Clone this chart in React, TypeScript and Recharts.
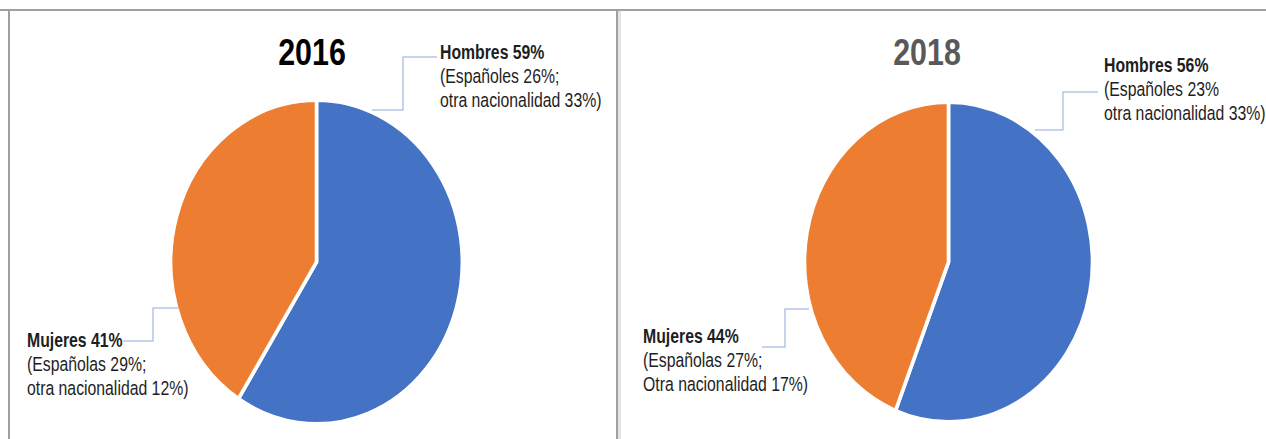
import React from 'react';
import { PieChart, Pie, Cell } from 'recharts';

// ---- data ----
const categories = ['Hombres', 'Mujeres'];
const values2016 = [59, 41];
const values2018 = [56, 44];
const detail2016 = [
  ['(Españoles 26%;', 'otra nacionalidad 33%)'],
  ['(Españolas 29%;', 'otra nacionalidad 12%)'],
];
const detail2018 = [
  ['(Españoles 23%', 'otra nacionalidad 33%)'],
  ['(Españolas 27%;', 'Otra nacionalidad 17%)'],
];
const titles = ['2016', '2018'];

const COLORS = ['#4472C4', '#ED7D31'];
const SX = 0.9; // horizontal squeeze of the picture
const FONT = '"Liberation Sans", Arial, sans-serif';

type Layout = { leader: number[][]; text: number[] };
// label placement offsets, relative to the pie centre (unscaled units)
const layout2016: Layout[] = [
  { leader: [[61.7, -152], [96.1, -152], [96.1, -205], [133.9, -205]], text: [137.2, -203] },
  { leader: [[-151.7, 46], [-181.7, 46], [-181.7, 79], [-215, 79]], text: [-321.7, 85] },
];
const layout2018: Layout[] = [
  { leader: [[96.1, -132], [127.2, -132], [127.2, -170], [166.1, -170]], text: [172.8, -190] },
  { leader: [[-155, 47], [-181.7, 47], [-181.7, 85], [-207.2, 85]], text: [-339.4, 81] },
];

const makeLabel = (layout: Layout[], detail: string[][]) => (props: any) => {
  const { cx, cy, index } = props;
  const L = layout[index];
  const pts = L.leader.map(([dx, dy]) => `${cx + dx},${cy + dy}`).join(' ');
  const tx = cx + L.text[0];
  const ty = cy + L.text[1];
  const v = props.value ?? props.payload?.value;
  return (
    <g key={`lbl-${index}`}>
      <polyline points={pts} fill="none" stroke="#8FAADC" strokeWidth={1.1} />
      <text
        transform={`translate(${tx},${ty}) scale(0.9,1)`}
        fontFamily={FONT}
        fontSize={19.5}
        fill="#1e1e1e"
      >
        <tspan x={0} y={0} fontWeight="bold">{`${categories[index]} ${v}%`}</tspan>
        <tspan x={0} y={24}>{detail[index][0]}</tspan>
        <tspan x={0} y={48}>{detail[index][1]}</tspan>
      </text>
    </g>
  );
};

const data2016 = categories.map((name, i) => ({ name, value: values2016[i] }));
const data2018 = categories.map((name, i) => ({ name, value: values2018[i] }));

function PiePanel({ left, width, cx, radius, data, layout, detail }: any) {
  return (
    <div
      style={{
        position: 'absolute',
        left,
        top: 0,
        width,
        height: 439,
        transform: `scaleX(${SX})`,
        transformOrigin: '0 0',
      }}
    >
      <PieChart width={width} height={439} margin={{ top: 0, right: 0, bottom: 0, left: 0 }}>
        <Pie
          data={data}
          dataKey="value"
          nameKey="name"
          cx={cx}
          cy={262}
          outerRadius={radius}
          startAngle={90}
          endAngle={-270}
          stroke="#ffffff"
          strokeWidth={4}
          isAnimationActive={false}
          labelLine={false}
          label={makeLabel(layout, detail)}
        >
          {data.map((_: any, i: number) => (
            <Cell key={i} fill={COLORS[i]} />
          ))}
        </Pie>
      </PieChart>
    </div>
  );
}

export default function App() {
  return (
    <div style={{ position: 'absolute', left: 0, top: 0, width: 1266, height: 439, background: '#fff', overflow: 'hidden' }}>
      <PiePanel left={8} width={676} cx={342.8} radius={162} data={data2016} layout={layout2016} detail={detail2016} />
      <PiePanel left={620} width={718} cx={365} radius={160} data={data2018} layout={layout2018} detail={detail2018} />
      <svg width={1266} height={439} style={{ position: 'absolute', left: 0, top: 0, pointerEvents: 'none' }}>
        <rect x={0} y={9} width={1266} height={2} fill="#A0A0A0" />
        <rect x={8} y={9} width={2} height={430} fill="#A0A0A0" />
        <rect x={616} y={9} width={2} height={430} fill="#A0A0A0" />
        <rect x={618} y={11} width={3} height={428} fill="#E4E4E4" />
        <text transform="translate(312,65) scale(0.81,1)" textAnchor="middle" fontFamily={FONT} fontWeight="bold" fontSize={37.5} fill="#000">
          {titles[0]}
        </text>
        <text transform="translate(927,65) scale(0.81,1)" textAnchor="middle" fontFamily={FONT} fontWeight="bold" fontSize={37.5} fill="#595959">
          {titles[1]}
        </text>
      </svg>
    </div>
  );
}
